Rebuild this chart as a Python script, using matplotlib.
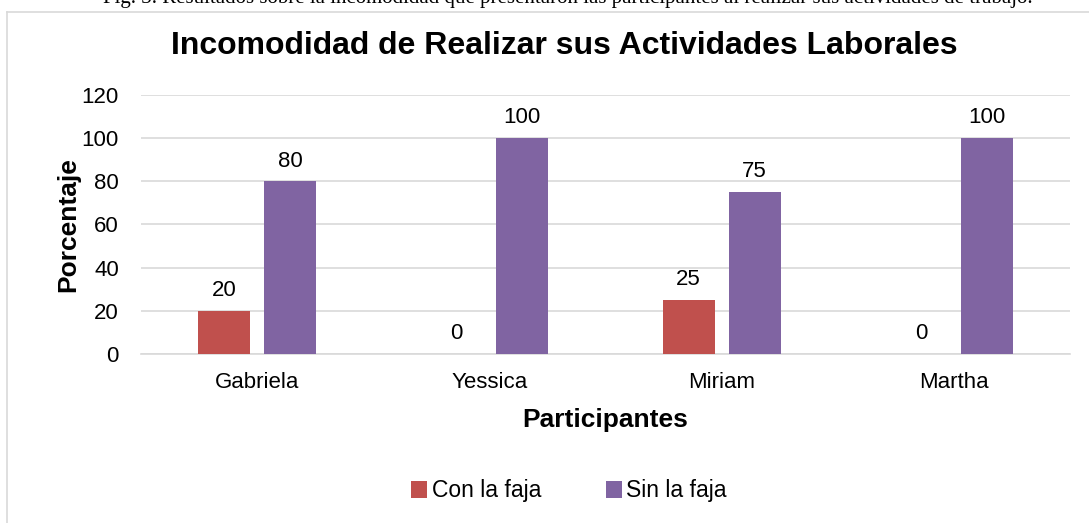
import matplotlib.pyplot as plt
import numpy as np

plt.rcParams['font.family'] = ['Liberation Sans', 'DejaVu Sans']

# datos
participantes = ["Gabriela", "Yessica", "Miriam", "Martha"]
con_faja = [20, 0, 25, 0]
sin_faja = [80, 100, 75, 100]
rojo = "#C0504D"
morado = "#8064A2"

fig = plt.figure(figsize=(10.89, 5.23), dpi=100)

# marco del grafico y pie de figura cortado arriba
fig.add_artist(plt.Line2D([7/1089, 7/1089], [0, 1 - 12/523], color="#d9d9d9", lw=1.2))
fig.add_artist(plt.Line2D([7/1089, 1], [1 - 12/523, 1 - 12/523], color="#d9d9d9", lw=1.2))
fig.text(0.521, 1 - 2.5/523, "Fig. 3. Resultados sobre la incomodidad que presentaron las participantes al realizar sus actividades de trabajo.",
         ha="center", va="baseline", family="Liberation Serif", fontsize=15, color="black")

ax = fig.add_axes([141/1089, 1 - 354/523, 929/1089, 259/523])
x = np.arange(len(participantes))
w = 0.224
off = 0.142
b1 = ax.bar(x - off, con_faja, w, color=rojo, label="Con la faja", zorder=3)
b2 = ax.bar(x + off, sin_faja, w, color=morado, label="Sin la faja", zorder=3)

for bars in (b1, b2):
    for b in bars:
        ax.annotate(f"{b.get_height():.0f}", (b.get_x() + b.get_width()/2, b.get_height()),
                    xytext=(0, 7), textcoords="offset points", ha="center", va="bottom", fontsize=16)

ax.set_xlim(-0.5, 3.5)
ax.set_ylim(0, 120)
ax.set_yticks(range(0, 121, 20))
ax.set_xticks(x)
ax.set_xticklabels(participantes)
ax.tick_params(axis="both", length=0, labelsize=16)
ax.tick_params(axis="y", pad=16)
ax.tick_params(axis="x", pad=13)
ax.grid(axis="y", color="#d9d9d9", lw=1.2, zorder=0)
for s in ["top", "right", "left"]:
    ax.spines[s].set_visible(False)
ax.spines["bottom"].set_color("#d9d9d9")
ax.spines["bottom"].set_linewidth(1.2)

fig.text(0.518, 1 - 46/523, "Incomodidad de Realizar sus Actividades Laborales",
         ha="center", va="center", fontsize=23, fontweight="bold")
ax.set_xlabel("Participantes", fontsize=19, fontweight="bold", labelpad=11)
ax.set_ylabel("Porcentaje", fontsize=19, fontweight="bold", labelpad=1)

fig.legend(loc="center", bbox_to_anchor=(0.5225, 1 - 491/523), ncol=2, frameon=False,
           fontsize=16.5, handlelength=0.7, handleheight=0.7, handletextpad=0.2, columnspacing=2.8)

fig.savefig("out.png", dpi=100)
